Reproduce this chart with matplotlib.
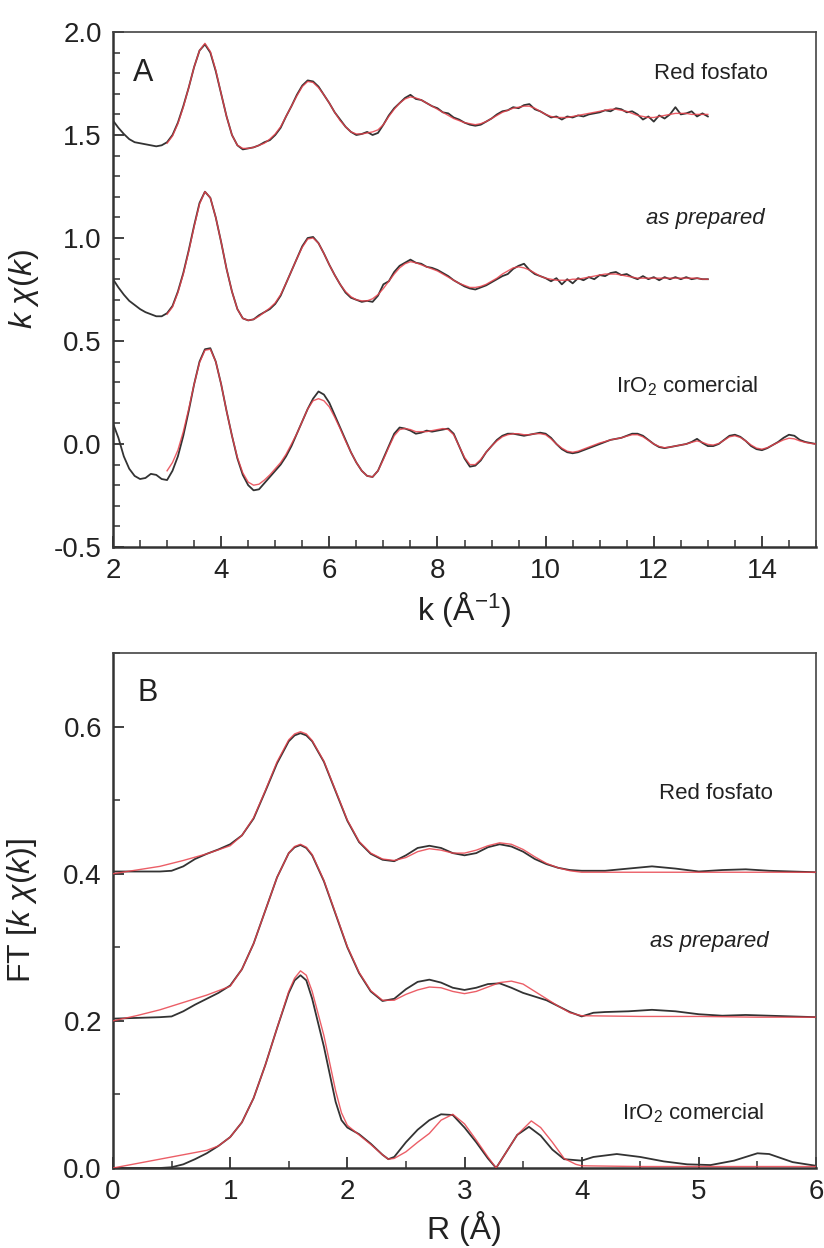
import numpy as np
import matplotlib
matplotlib.use("Agg")
import matplotlib.pyplot as plt
from matplotlib.ticker import MultipleLocator, FormatStrFormatter

plt.rcParams['font.family'] = ['Liberation Sans', 'DejaVu Sans']
plt.rcParams['mathtext.fontset'] = 'custom'
plt.rcParams['mathtext.rm'] = 'Liberation Sans'
plt.rcParams['mathtext.it'] = 'Liberation Sans:italic'
plt.rcParams['mathtext.bf'] = 'Liberation Sans:bold'
plt.rcParams['axes.unicode_minus'] = False

# ---------------- Panel A data: k*chi(k) ----------------
k_red_fosfato = np.round(np.arange(2.0, 13.001, 0.1), 2)
chi_red_fosfato = [
    1.57, 1.535, 1.505, 1.48, 1.465, 1.46, 1.455, 1.45, 1.445, 1.45,      # 2.0-2.9
    1.465, 1.50, 1.56, 1.64, 1.73, 1.83, 1.91, 1.94, 1.90, 1.81,          # 3.0-3.9
    1.70, 1.59, 1.50, 1.45, 1.43, 1.435, 1.44, 1.45, 1.465, 1.475,        # 4.0-4.9
    1.50, 1.535, 1.59, 1.64, 1.695, 1.74, 1.765, 1.76, 1.735, 1.695,      # 5.0-5.9
    1.655, 1.61, 1.575, 1.54, 1.515, 1.50, 1.505, 1.515, 1.50, 1.51,      # 6.0-6.9
    1.55, 1.595, 1.63, 1.655, 1.68, 1.695, 1.675, 1.67, 1.655, 1.64,      # 7.0-7.9
    1.63, 1.61, 1.605, 1.585, 1.575, 1.56, 1.55, 1.545, 1.55, 1.565,      # 8.0-8.9
    1.58, 1.60, 1.615, 1.62, 1.635, 1.63, 1.645, 1.65, 1.625, 1.615,      # 9.0-9.9
    1.60, 1.585, 1.59, 1.575, 1.59, 1.585, 1.595, 1.59, 1.60, 1.605,      # 10.0-10.9
    1.61, 1.62, 1.615, 1.63, 1.625, 1.61, 1.615, 1.60, 1.575, 1.59,       # 11.0-11.9
    1.565, 1.595, 1.58, 1.60, 1.635, 1.60, 1.605, 1.615, 1.59, 1.605,     # 12.0-12.9
    1.59]                                                                  # 13.0

k_red_fosfato_fit = np.round(np.arange(3.0, 13.001, 0.1), 2)
fit_red_fosfato = [
    1.46, 1.495, 1.555, 1.635, 1.73, 1.83, 1.91, 1.945, 1.905, 1.815,
    1.70, 1.59, 1.50, 1.45, 1.435, 1.435, 1.44, 1.45, 1.46, 1.48,
    1.505, 1.54, 1.59, 1.64, 1.69, 1.735, 1.76, 1.755, 1.73, 1.695,
    1.655, 1.61, 1.57, 1.54, 1.515, 1.505, 1.505, 1.51, 1.515, 1.525,
    1.55, 1.59, 1.625, 1.655, 1.675, 1.685, 1.68, 1.67, 1.655, 1.64,
    1.625, 1.61, 1.595, 1.58, 1.57, 1.56, 1.555, 1.55, 1.555, 1.565,
    1.58, 1.595, 1.61, 1.62, 1.63, 1.635, 1.64, 1.64, 1.63, 1.615,
    1.60, 1.59, 1.585, 1.585, 1.585, 1.59, 1.595, 1.60, 1.605, 1.61,
    1.615, 1.62, 1.625, 1.625, 1.62, 1.615, 1.605, 1.595, 1.59, 1.585,
    1.585, 1.59, 1.595, 1.60, 1.605, 1.605, 1.605, 1.60, 1.60, 1.60,
    1.60]

k_as_prepared = np.round(np.arange(2.0, 13.001, 0.1), 2)
chi_as_prepared = [
    0.80, 0.76, 0.725, 0.695, 0.675, 0.655, 0.64, 0.63, 0.62, 0.62,
    0.635, 0.67, 0.74, 0.83, 0.94, 1.06, 1.17, 1.225, 1.195, 1.10,
    0.98, 0.85, 0.74, 0.655, 0.61, 0.60, 0.605, 0.625, 0.64, 0.655,
    0.68, 0.72, 0.78, 0.84, 0.90, 0.96, 1.00, 1.005, 0.975, 0.925,
    0.87, 0.82, 0.775, 0.735, 0.71, 0.70, 0.69, 0.695, 0.69, 0.72,
    0.775, 0.79, 0.835, 0.865, 0.88, 0.895, 0.88, 0.875, 0.86, 0.855,
    0.845, 0.83, 0.815, 0.795, 0.78, 0.765, 0.755, 0.75, 0.76, 0.77,
    0.785, 0.80, 0.815, 0.825, 0.85, 0.865, 0.875, 0.845, 0.825, 0.815,
    0.805, 0.79, 0.805, 0.775, 0.80, 0.78, 0.805, 0.795, 0.81, 0.80,
    0.82, 0.815, 0.83, 0.835, 0.82, 0.825, 0.81, 0.80, 0.815, 0.80,
    0.81, 0.795, 0.81, 0.80, 0.81, 0.80, 0.81, 0.80, 0.805, 0.80,
    0.80]

k_as_prepared_fit = np.round(np.arange(3.0, 13.001, 0.1), 2)
fit_as_prepared = [
    0.63, 0.665, 0.735, 0.825, 0.935, 1.055, 1.165, 1.225, 1.195, 1.10,
    0.98, 0.85, 0.74, 0.655, 0.61, 0.60, 0.605, 0.62, 0.64, 0.66,
    0.685, 0.725, 0.78, 0.84, 0.90, 0.955, 0.995, 1.0, 0.975, 0.925,
    0.87, 0.82, 0.775, 0.74, 0.715, 0.70, 0.695, 0.695, 0.705, 0.725,
    0.755, 0.79, 0.825, 0.855, 0.875, 0.885, 0.88, 0.87, 0.86, 0.85,
    0.84, 0.825, 0.81, 0.795, 0.78, 0.77, 0.76, 0.76, 0.765, 0.775,
    0.79, 0.805, 0.825, 0.84, 0.855, 0.86, 0.855, 0.845, 0.83, 0.815,
    0.805, 0.80, 0.795, 0.795, 0.795, 0.80, 0.80, 0.805, 0.81, 0.815,
    0.82, 0.825, 0.825, 0.825, 0.82, 0.815, 0.81, 0.805, 0.805, 0.805,
    0.805, 0.805, 0.805, 0.805, 0.805, 0.805, 0.805, 0.805, 0.805, 0.80,
    0.80]

k_iro2 = np.round(np.arange(2.0, 15.001, 0.1), 2)
chi_iro2 = [
    0.10, 0.03, -0.06, -0.12, -0.155, -0.17, -0.165, -0.145, -0.15, -0.17,
    -0.175, -0.13, -0.06, 0.04, 0.16, 0.29, 0.40, 0.46, 0.465, 0.40,
    0.29, 0.16, 0.04, -0.07, -0.15, -0.20, -0.225, -0.22, -0.19, -0.16,
    -0.13, -0.10, -0.06, -0.01, 0.05, 0.11, 0.17, 0.22, 0.255, 0.24,
    0.20, 0.14, 0.08, 0.02, -0.04, -0.09, -0.13, -0.155, -0.16, -0.13,
    -0.07, -0.01, 0.05, 0.08, 0.075, 0.065, 0.05, 0.055, 0.065, 0.06,
    0.065, 0.07, 0.075, 0.05, -0.01, -0.07, -0.11, -0.105, -0.08, -0.04,
    -0.01, 0.02, 0.04, 0.05, 0.05, 0.045, 0.04, 0.045, 0.05, 0.055,
    0.05, 0.03, 0.0, -0.025, -0.04, -0.045, -0.04, -0.03, -0.02, -0.01,
    0.0, 0.01, 0.02, 0.025, 0.03, 0.04, 0.05, 0.05, 0.04, 0.02,
    0.0, -0.015, -0.02, -0.015, -0.01, -0.005, 0.0, 0.01, 0.025, 0.005,
    -0.01, -0.01, 0.0, 0.02, 0.04, 0.045, 0.035, 0.015, -0.01, -0.025,
    -0.03, -0.02, -0.005, 0.01, 0.03, 0.045, 0.04, 0.02, 0.01, 0.005,
    0.0]

k_iro2_fit = np.round(np.arange(3.0, 15.001, 0.1), 2)
fit_iro2 = [
    -0.13, -0.09, -0.03, 0.06, 0.17, 0.29, 0.395, 0.455, 0.46, 0.40,
    0.29, 0.16, 0.04, -0.065, -0.14, -0.185, -0.20, -0.195, -0.175, -0.15,
    -0.12, -0.09, -0.05, 0.0, 0.05, 0.11, 0.17, 0.21, 0.22, 0.21,
    0.18, 0.13, 0.075, 0.015, -0.04, -0.09, -0.13, -0.155, -0.16, -0.13,
    -0.075, -0.015, 0.04, 0.07, 0.075, 0.07, 0.06, 0.06, 0.06, 0.065,
    0.07, 0.075, 0.07, 0.045, -0.01, -0.065, -0.10, -0.10, -0.075, -0.04,
    -0.01, 0.015, 0.035, 0.045, 0.05, 0.05, 0.045, 0.045, 0.05, 0.05,
    0.045, 0.025, 0.0, -0.02, -0.035, -0.04, -0.035, -0.025, -0.015, -0.005,
    0.005, 0.012, 0.02, 0.025, 0.03, 0.038, 0.045, 0.045, 0.035, 0.018,
    0.0, -0.012, -0.018, -0.015, -0.01, -0.005, 0.0, 0.008, 0.015, 0.008,
    -0.002, -0.005, 0.002, 0.018, 0.035, 0.04, 0.032, 0.015, -0.005, -0.02,
    -0.025, -0.018, -0.005, 0.008, 0.02, 0.028, 0.025, 0.015, 0.008, 0.003,
    0.0]

# ---------------- Panel B data: FT magnitude ----------------
R_red_fosfato = [0.0, 0.2, 0.4, 0.5, 0.6, 0.7, 0.8, 0.9, 1.0, 1.1, 1.2, 1.3, 1.4, 1.5,
                 1.55, 1.6, 1.65, 1.7, 1.8, 1.9, 2.0, 2.1, 2.2, 2.3, 2.4, 2.5, 2.6, 2.7,
                 2.8, 2.9, 3.0, 3.1, 3.2, 3.3, 3.4, 3.5, 3.6, 3.7, 3.8, 3.9, 4.0, 4.2,
                 4.4, 4.6, 4.8, 5.0, 5.2, 5.4, 5.6, 5.8, 6.0]
ft_red_fosfato = [0.403, 0.403, 0.403, 0.404, 0.41, 0.42, 0.427, 0.433, 0.44, 0.452,
                  0.475, 0.512, 0.55, 0.58, 0.588, 0.591, 0.588, 0.58, 0.552, 0.512,
                  0.472, 0.443, 0.427, 0.419, 0.417, 0.425, 0.435, 0.438, 0.435, 0.428,
                  0.425, 0.428, 0.436, 0.44, 0.437, 0.43, 0.42, 0.413, 0.408, 0.405,
                  0.404, 0.404, 0.407, 0.41, 0.407, 0.403, 0.405, 0.406, 0.404, 0.403,
                  0.402]
R_red_fosfato_fit = [0.0, 0.2, 0.4, 0.6, 0.8, 1.0, 1.1, 1.2, 1.3, 1.4, 1.5, 1.55, 1.6,
                     1.65, 1.7, 1.8, 1.9, 2.0, 2.1, 2.2, 2.3, 2.4, 2.5, 2.6, 2.7, 2.8,
                     2.9, 3.0, 3.1, 3.2, 3.3, 3.4, 3.5, 3.6, 3.7, 3.8, 3.9, 4.0, 4.5,
                     5.0, 5.5, 6.0]
fit_ft_red_fosfato = [0.40, 0.405, 0.41, 0.418, 0.427, 0.438, 0.452, 0.476, 0.513, 0.552,
                      0.582, 0.59, 0.593, 0.59, 0.581, 0.553, 0.513, 0.473, 0.444, 0.428,
                      0.42, 0.418, 0.422, 0.43, 0.434, 0.432, 0.428, 0.428, 0.432, 0.438,
                      0.442, 0.44, 0.433, 0.423, 0.414, 0.408, 0.404, 0.402, 0.402, 0.402,
                      0.402, 0.402]

R_as_prepared = [0.0, 0.2, 0.4, 0.5, 0.6, 0.7, 0.8, 0.9, 1.0, 1.1, 1.2, 1.3, 1.4, 1.5,
                 1.55, 1.6, 1.65, 1.7, 1.8, 1.9, 2.0, 2.1, 2.2, 2.3, 2.4, 2.5, 2.6, 2.7,
                 2.8, 2.9, 3.0, 3.1, 3.2, 3.3, 3.4, 3.5, 3.6, 3.7, 3.8, 3.9, 4.0, 4.1,
                 4.2, 4.4, 4.6, 4.8, 5.0, 5.2, 5.4, 5.6, 5.8, 6.0]
ft_as_prepared = [0.203, 0.204, 0.205, 0.206, 0.213, 0.222, 0.23, 0.238, 0.248, 0.27,
                  0.305, 0.35, 0.395, 0.428, 0.436, 0.439, 0.435, 0.425, 0.39, 0.345,
                  0.30, 0.265, 0.24, 0.227, 0.23, 0.243, 0.253, 0.256, 0.252, 0.245,
                  0.242, 0.245, 0.25, 0.251, 0.245, 0.238, 0.233, 0.228, 0.22, 0.212,
                  0.206, 0.211, 0.212, 0.213, 0.215, 0.213, 0.209, 0.207, 0.208, 0.207,
                  0.206, 0.205]
R_as_prepared_fit = [0.0, 0.2, 0.4, 0.6, 0.8, 1.0, 1.1, 1.2, 1.3, 1.4, 1.5, 1.55, 1.6,
                     1.65, 1.7, 1.8, 1.9, 2.0, 2.1, 2.2, 2.3, 2.4, 2.5, 2.6, 2.7, 2.8,
                     2.9, 3.0, 3.1, 3.2, 3.3, 3.4, 3.5, 3.6, 3.7, 3.8, 3.9, 4.0, 4.5,
                     5.0, 5.5, 6.0]
fit_ft_as_prepared = [0.20, 0.207, 0.215, 0.225, 0.235, 0.247, 0.27, 0.305, 0.35, 0.395,
                      0.428, 0.437, 0.44, 0.436, 0.426, 0.391, 0.346, 0.301, 0.266, 0.241,
                      0.228, 0.228, 0.236, 0.242, 0.246, 0.245, 0.24, 0.237, 0.24, 0.246,
                      0.252, 0.254, 0.25, 0.24, 0.23, 0.22, 0.211, 0.207, 0.206, 0.206,
                      0.205, 0.205]

R_iro2 = [0.0, 0.2, 0.4, 0.5, 0.6, 0.7, 0.8, 0.9, 1.0, 1.1, 1.2, 1.3, 1.4, 1.5, 1.55,
          1.6, 1.65, 1.7, 1.8, 1.9, 1.95, 2.0, 2.1, 2.2, 2.3, 2.35, 2.4, 2.5, 2.6, 2.7,
          2.8, 2.9, 3.0, 3.1, 3.2, 3.27, 3.35, 3.45, 3.55, 3.65, 3.75, 3.85, 4.0, 4.1,
          4.3, 4.5, 4.7, 4.9, 5.1, 5.3, 5.5, 5.6, 5.8, 6.0]
ft_iro2 = [0.0, 0.0, 0.0, 0.001, 0.005, 0.012, 0.02, 0.03, 0.042, 0.062, 0.095, 0.14,
           0.19, 0.238, 0.255, 0.262, 0.255, 0.23, 0.165, 0.09, 0.065, 0.055, 0.046,
           0.033, 0.018, 0.012, 0.015, 0.035, 0.052, 0.065, 0.073, 0.072, 0.055, 0.035,
           0.013, 0.0, 0.02, 0.045, 0.056, 0.044, 0.025, 0.012, 0.01, 0.015, 0.019,
           0.015, 0.009, 0.005, 0.004, 0.01, 0.02, 0.019, 0.008, 0.003]
R_iro2_fit = [0.0, 0.2, 0.4, 0.6, 0.8, 0.9, 1.0, 1.1, 1.2, 1.3, 1.4, 1.5, 1.55, 1.6,
              1.65, 1.7, 1.8, 1.9, 1.95, 2.0, 2.1, 2.2, 2.3, 2.35, 2.4, 2.5, 2.6, 2.7,
              2.8, 2.9, 3.0, 3.1, 3.2, 3.27, 3.35, 3.45, 3.57, 3.65, 3.75, 3.85, 3.95,
              4.0, 4.5, 5.0, 6.0]
fit_ft_iro2 = [0.0, 0.006, 0.012, 0.018, 0.024, 0.03, 0.042, 0.062, 0.095, 0.14, 0.19,
               0.24, 0.258, 0.268, 0.262, 0.24, 0.18, 0.105, 0.075, 0.058, 0.045, 0.032,
               0.018, 0.012, 0.013, 0.022, 0.035, 0.047, 0.065, 0.073, 0.06, 0.038,
               0.015, 0.0, 0.02, 0.045, 0.064, 0.055, 0.035, 0.013, 0.005, 0.003, 0.002,
               0.002, 0.002]

labels = ["Red fosfato", "as prepared", "IrO$_2$ comercial"]

for a, b, name in [(k_red_fosfato, chi_red_fosfato, 'rf'), (k_red_fosfato_fit, fit_red_fosfato, 'rff'),
                   (k_as_prepared, chi_as_prepared, 'ap'), (k_as_prepared_fit, fit_as_prepared, 'apf'),
                   (k_iro2, chi_iro2, 'ir'), (k_iro2_fit, fit_iro2, 'irf'),
                   (R_red_fosfato, ft_red_fosfato, 'Rrf'), (R_red_fosfato_fit, fit_ft_red_fosfato, 'Rrff'),
                   (R_as_prepared, ft_as_prepared, 'Rap'), (R_as_prepared_fit, fit_ft_as_prepared, 'Rapf'),
                   (R_iro2, ft_iro2, 'Rir'), (R_iro2_fit, fit_ft_iro2, 'Rirf')]:
    if len(a) != len(b):
        raise ValueError(f"length mismatch {name}: {len(a)} vs {len(b)}")

# ---------------- Figure ----------------
fig = plt.figure(figsize=(8.24, 12.48), dpi=100)
W, H = 824, 1248
axA = fig.add_axes([113 / W, 1 - 547 / H, 703 / W, 515 / H])
axB = fig.add_axes([113 / W, 1 - 1168 / H, 703 / W, 515 / H])

black = '#333333'
red = '#e8424c'
txt = '#222222'

def style(ax):
    for s in ['left', 'bottom']:
        ax.spines[s].set_linewidth(1.8)
        ax.spines[s].set_color('#333333')
    for s in ['top', 'right']:
        ax.spines[s].set_linewidth(1.2)
        ax.spines[s].set_color('#444444')
    ax.tick_params(which='both', direction='in', top=False, right=False,
                   color='#333333', labelcolor=txt, labelsize=20, pad=8)
    ax.tick_params(which='major', length=8, width=1.3)
    ax.tick_params(which='minor', length=5, width=1.1)

# Panel A
for kk, yy in [(k_red_fosfato, chi_red_fosfato), (k_as_prepared, chi_as_prepared), (k_iro2, chi_iro2)]:
    axA.plot(kk, yy, color=black, lw=1.3, zorder=2)
for kk, yy in [(k_red_fosfato_fit, fit_red_fosfato), (k_as_prepared_fit, fit_as_prepared), (k_iro2_fit, fit_iro2)]:
    axA.plot(kk, yy, color=red, lw=1.0, alpha=0.85, zorder=3)
axA.set_xlim(2, 15)
axA.set_ylim(-0.5, 2.0)
axA.xaxis.set_major_locator(MultipleLocator(2))
axA.xaxis.set_minor_locator(MultipleLocator(0.5))
axA.yaxis.set_major_locator(MultipleLocator(0.5))
axA.yaxis.set_minor_locator(MultipleLocator(0.1))
axA.yaxis.set_major_formatter(FormatStrFormatter('%.1f'))
style(axA)
axA.set_xlabel(r"k (Å$^{\mathrm{-1}}$)", fontsize=23, color=txt, labelpad=4)
axA.set_ylabel(r"$k\ \chi(k)$", fontsize=23, color=txt)
axA.yaxis.set_label_coords(-0.103, 0.5)
axA.text(2.37, 1.80, "A", fontsize=22, color=txt, ha='left', va='center')
axA.text(13.06, 1.80, labels[0], fontsize=16, color=txt, ha='center', va='center')
axA.text(12.95, 1.097, labels[1], fontsize=16, color=txt, ha='center', va='center', style='italic')
axA.text(12.62, 0.28, labels[2], fontsize=16, color=txt, ha='center', va='center')

# Panel B
for rr, yy in [(R_red_fosfato, ft_red_fosfato), (R_as_prepared, ft_as_prepared), (R_iro2, ft_iro2)]:
    axB.plot(rr, yy, color=black, lw=1.3, zorder=2)
for rr, yy in [(R_red_fosfato_fit, fit_ft_red_fosfato), (R_as_prepared_fit, fit_ft_as_prepared), (R_iro2_fit, fit_ft_iro2)]:
    axB.plot(rr, yy, color=red, lw=1.0, alpha=0.85, zorder=3)
axB.set_xlim(0, 6)
axB.set_ylim(0, 0.7)
axB.xaxis.set_major_locator(MultipleLocator(1))
axB.xaxis.set_minor_locator(MultipleLocator(0.5))
axB.yaxis.set_major_locator(MultipleLocator(0.2))
axB.yaxis.set_minor_locator(MultipleLocator(0.1))
axB.yaxis.set_major_formatter(FormatStrFormatter('%.1f'))
style(axB)
axB.set_xlabel("R (Å)", fontsize=23, color=txt, labelpad=4)
axB.set_ylabel(r"FT [$k\ \chi(k)$]", fontsize=23, color=txt)
axB.yaxis.set_label_coords(-0.105, 0.5)
axB.text(0.205, 0.645, "B", fontsize=22, color=txt, ha='left', va='center')
axB.text(5.15, 0.509, labels[0], fontsize=16, color=txt, ha='center', va='center')
axB.text(5.09, 0.308, labels[1], fontsize=16, color=txt, ha='center', va='center', style='italic')
axB.text(4.95, 0.074, labels[2], fontsize=16, color=txt, ha='center', va='center')

fig.savefig("out.png", dpi=100)
